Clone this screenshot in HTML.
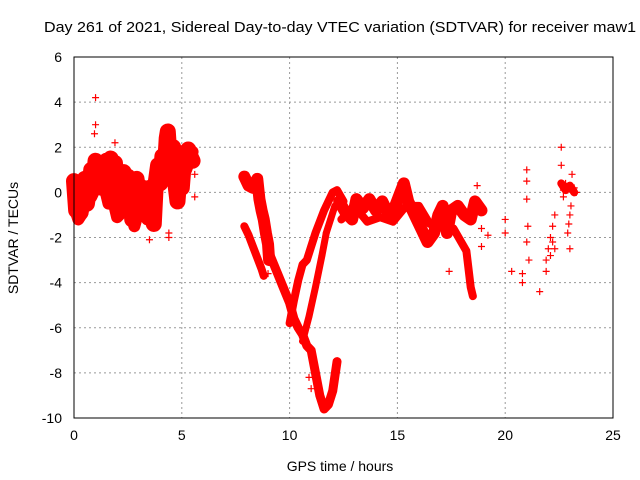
<!DOCTYPE html>
<html><head><meta charset="utf-8"><style>
body{margin:0;background:#fff;font-family:"Liberation Sans",sans-serif}
svg{display:block}
</style></head><body>
<svg width="640" height="480" xmlns="http://www.w3.org/2000/svg">
<text x="44" y="32" font-size="15" textLength="592" lengthAdjust="spacingAndGlyphs">Day 261 of 2021, Sidereal Day-to-day VTEC variation (SDTVAR) for receiver maw1</text>
<text x="340" y="471" font-size="14" text-anchor="middle">GPS time / hours</text>
<text transform="translate(18,238) rotate(-90)" font-size="14" text-anchor="middle">SDTVAR / TECUs</text>
<g id="grid"></g><g id="ticks"></g><g id="marks"></g>
<rect x="74" y="57" width="539" height="361" fill="none" stroke="#000" stroke-width="1"/>
</svg>
<script>
const xTicks=[0,5,10,15,20,25];
const yTicks=[-10,-8,-6,-4,-2,0,2,4,6];
const trackA=[[0,0.5],[0.1,-0.8],[0.2,0],[0.3,-0.9],[0.4,-0.2],[0.5,0.6],[0.6,-0.5],[0.7,0.2],[0.8,1.0],[0.9,0.4],[1.0,1.4],[1.1,0.8],[1.2,1.2],[1.3,0.2],[1.4,1.0],[1.5,1.4],[1.6,0.5],[1.7,1.5],[1.8,0.8],[1.9,1.3],[2.0,0.2],[2.1,-0.8],[2.2,0],[2.3,0.9],[2.4,-0.5],[2.5,0.7],[2.6,0.2],[2.7,-1.2],[2.8,-0.3],[2.9,0.6],[3.0,0],[3.1,-0.8],[3.2,-0.3],[3.3,-1.0],[3.4,-0.4],[3.5,0.2],[3.6,-0.5],[3.7,-1.4],[3.8,0.5],[3.9,1.2],[4.0,0.4],[4.1,1.6],[4.2,0.8],[4.3,2.4],[4.35,2.7],[4.4,2.0],[4.5,1.2],[4.6,2.0],[4.7,0.4],[4.8,-0.4],[4.9,0.8],[5.0,0.2],[5.1,1.4],[5.2,1.8],[5.3,1.9],[5.4,1.6],[5.5,1.4]];
const trackA2=[[0,-0.6],[0.2,-1.2],[0.4,-0.9],[0.6,0.3],[0.8,-0.2],[1.0,0.2],[1.2,0.6],[1.4,0.3],[1.6,-0.5],[1.8,-0.3],[2.0,-1.1],[2.2,-0.9],[2.4,0.3],[2.6,-0.6],[2.8,-1.5],[3.0,-0.8],[3.2,0.3],[3.4,-1.2],[3.6,-1.2],[3.8,-0.2],[4.0,1.0],[4.2,1.5],[4.4,0.8],[4.6,1.0],[4.8,0.6],[5.0,1.0],[5.2,1.0],[5.5,1.8]];
const trackB=[[7.9,0.7],[8.1,0.3],[8.3,0.2],[8.5,0.6],[8.6,-0.3],[8.7,-0.8],[8.8,-1.2],[8.9,-1.8],[9.0,-2.3],[9.05,-3.0]];
const trackC=[[7.9,-1.5],[8.1,-1.9],[8.3,-2.4],[8.5,-2.9],[8.7,-3.4],[8.8,-3.7]];
const trackD=[[9.1,-2.8],[9.4,-3.5],[9.7,-4.2],[10.0,-4.9],[10.2,-5.6],[10.4,-6.0],[10.6,-6.3],[10.8,-6.8],[11.0,-7.0],[11.2,-8.0],[11.4,-9.0],[11.6,-9.6],[11.8,-9.4],[12.0,-8.8],[12.2,-7.5]];
const trackE=[[10.0,-5.8],[10.2,-4.8],[10.4,-3.9],[10.6,-3.2],[10.8,-3.0],[11.0,-2.4],[11.2,-1.8],[11.4,-1.3],[11.6,-0.8],[11.8,-0.4],[12.0,0],[12.2,0.1],[12.5,-0.4]];
const trackF=[[10.6,-6.6],[10.9,-5.5],[11.2,-4.2],[11.5,-2.8],[11.7,-1.8],[11.9,-1.2],[12.1,-0.6]];
const trackG=[[12.3,-0.4],[12.6,-0.9],[12.9,-1.2],[13.1,-0.3],[13.4,-0.7],[13.7,-0.3],[14.0,-0.8],[14.3,-0.4],[14.6,-1.0],[14.9,-0.6],[15.1,-0.1],[15.3,0.4],[15.5,-0.4],[15.8,-1.0],[16.1,-1.6],[16.4,-2.2],[16.7,-1.8],[16.9,-1.0],[17.1,-0.6],[17.3,-1.8],[17.5,-0.8],[17.8,-0.6],[18.1,-1.0],[18.4,-1.2],[18.6,-0.4],[18.9,-0.8]];
const trackH=[[12.4,-1.2],[13.0,-0.6],[13.6,-1.3],[14.2,-1.1],[14.8,-1.3],[15.4,-0.6],[16.0,-0.6],[16.5,-1.4],[17.0,-1.5],[17.6,-1.6],[18.2,-2.6],[18.4,-4.2],[18.5,-4.6]];
const trackI=[[22.6,0.4],[22.8,0.1],[23.0,0.3],[23.2,0.0]];
const tracks=[trackA,trackA2,trackB,trackC,trackD,trackE,trackF,trackG,trackH,trackI];
const bandWidths=[16,12,12,8,9,8,7,12,8,8];
const outliers=[[1.0,4.2],[1.0,3.0],[0.95,2.6],[1.9,2.2],[3.5,-2.1],[4.4,-2.0],[4.4,-1.8],[5.6,-0.2],[5.6,0.8],[9.0,-3.6],[11.0,-8.7],[10.9,-8.2],[17.4,-3.5],[18.7,0.3],[18.9,-1.6],[18.9,-2.4],[19.2,-1.9],[20.0,-1.2],[20.0,-1.8],[20.3,-3.5],[20.8,-3.6],[20.8,-4.0],[21.0,1.0],[21.0,0.5],[21.0,-0.3],[21.05,-1.5],[21.0,-2.2],[21.1,-3.0],[21.6,-4.4],[21.9,-3.5],[21.9,-3.0],[22.0,-2.5],[22.1,-2.0],[22.2,-1.5],[22.3,-1.0],[22.3,-2.5],[22.6,2.0],[22.6,1.2],[22.6,0.4],[22.7,-0.2],[22.8,0.4],[22.9,0.1],[23.0,-1.0],[22.9,-1.8],[23.0,-2.5],[23.1,0.8],[23.2,0.2],[23.3,0.0],[22.7,0.1],[22.1,-2.8],[22.2,-2.2],[22.95,-1.4],[23.05,-0.6]];
const NS="http://www.w3.org/2000/svg";
const X=t=>74+t*539/25, Y=v=>418-(v+10)*361/16;
function mk(tag,attrs,parent){const e=document.createElementNS(NS,tag);for(const k in attrs)e.setAttribute(k,attrs[k]);document.getElementById(parent).appendChild(e);return e;}
xTicks.forEach(t=>{
 if(t>0&&t<25){const g=mk('line',{x1:X(t),x2:X(t),y1:57,y2:418,stroke:'#999','stroke-dasharray':'2,3'},'grid');
 
 }
 const tx=mk('text',{x:X(t),y:440,'font-size':14,'text-anchor':'middle'},'ticks');tx.textContent=t;
 
 
});
yTicks.forEach(v=>{
 if(v>-10&&v<6){const g=mk('line',{x1:74,x2:613,y1:Y(v),y2:Y(v),stroke:'#999','stroke-dasharray':'2,3'},'grid');
 
 }
 const tx=mk('text',{x:62,y:Y(v)+5,'font-size':14,'text-anchor':'end'},'ticks');tx.textContent=v;
 
 
});
function cross(t,v){
 const x=X(t),y=Y(v);
 const p=mk('path',{d:`M${x-3.5},${y}H${x+3.5}M${x},${y-3.5}V${y+3.5}`,stroke:'#f00','stroke-width':1.2,fill:'none'},'marks');
 
 
}
tracks.forEach((tr,i)=>{
 const pl=mk('polyline',{points:tr.map(p=>X(p[0])+','+Y(p[1])).join(' '),stroke:'#f00','stroke-width':bandWidths[i],fill:'none','stroke-linejoin':'round','stroke-linecap':'round'},'marks');
 
 
 tr.forEach(p=>cross(p[0],p[1]));
});
outliers.forEach(p=>cross(p[0],p[1]));
</script>
</body></html>
